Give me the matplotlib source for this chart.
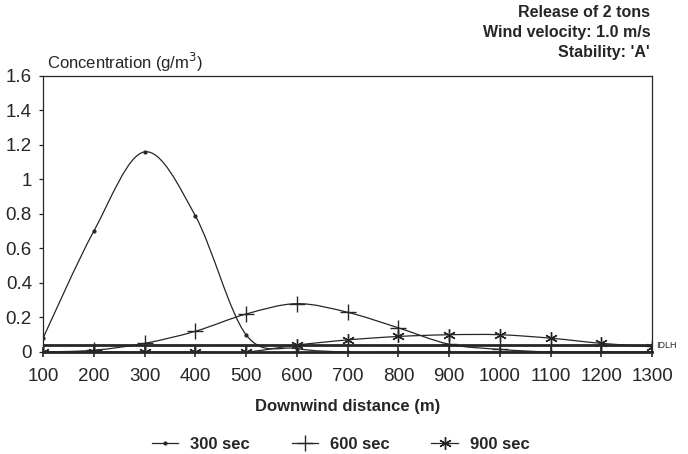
import numpy as np
import matplotlib
matplotlib.use('Agg')
import matplotlib.pyplot as plt
from matplotlib.path import Path
from matplotlib.patches import PathPatch
from matplotlib.lines import Line2D

plt.rcParams['font.family'] = ['Liberation Sans', 'DejaVu Sans']

distance = [100, 200, 300, 400, 500, 600, 700, 800, 900, 1000, 1100, 1200, 1300]
conc_300 = [0.08, 0.70, 1.16, 0.79, 0.10, 0.02, 0.0, 0.0, 0.0, 0.0, 0.0, 0.0, 0.0]
conc_600 = [0.0, 0.01, 0.05, 0.12, 0.22, 0.28, 0.23, 0.14, 0.045, 0.015, 0.0, 0.0, 0.0]
conc_900 = [0.0, 0.0, 0.0, 0.0, 0.0, 0.04, 0.07, 0.09, 0.10, 0.10, 0.08, 0.05, 0.03]
idlh = 0.038

ink = '#262626'


def smooth_path(x, y):
    # catmull-rom through the points, drawn as bezier segments
    pts = np.column_stack([x, y]).astype(float)
    ext = np.vstack([pts[0], pts, pts[-1]])
    verts = [pts[0]]
    codes = [Path.MOVETO]
    for i in range(len(pts) - 1):
        p0, p1, p2, p3 = ext[i], ext[i + 1], ext[i + 2], ext[i + 3]
        verts += [p1 + (p2 - p0) / 6, p2 - (p3 - p1) / 6, p2]
        codes += [Path.CURVE4] * 3
    return Path(verts, codes)


fig = plt.figure(figsize=(6.88, 4.54), dpi=100)
ax = fig.add_axes([0.0625, 0.2247, 0.8855, 0.608])

series = [
    (conc_300, '.', 4, '300 sec'),
    (conc_600, '+', 11, '600 sec'),
    (conc_900, (6, 2, 0), 9, '900 sec'),
]
handles = []
for vals, mk, ms, lab in series:
    ax.add_patch(PathPatch(smooth_path(distance, vals), facecolor='none',
                           edgecolor=ink, lw=0.9))
    ax.plot(distance, vals, ls='none', marker=mk, ms=ms, color=ink, mew=1.0)
    handles.append(Line2D([], [], color=ink, lw=0.9, marker=mk, ms=ms, mew=1.0))

ax.axhline(idlh, color=ink, lw=2.0)
ax.text(1308, idlh, 'IDLH', fontsize=6.5, color=ink, va='center', ha='left',
        clip_on=False)

ax.set_xlim(100, 1300)
ax.set_ylim(0, 1.6)
ax.set_xticks(distance)
ax.set_yticks([0, 0.2, 0.4, 0.6, 0.8, 1, 1.2, 1.4, 1.6])
ax.set_yticklabels(['0', '0.2', '0.4', '0.6', '0.8', '1', '1.2', '1.4', '1.6'])
ax.tick_params(axis='x', direction='inout', length=7, width=1.2, color=ink,
               labelsize=13.5, labelcolor=ink, pad=8)
ax.tick_params(axis='y', direction='out', length=3, width=0.9, color=ink,
               labelsize=13.5, labelcolor=ink, pad=5)
for s in ['top', 'right', 'left']:
    ax.spines[s].set_linewidth(0.9)
    ax.spines[s].set_color(ink)
ax.spines['bottom'].set_linewidth(2.0)
ax.spines['bottom'].set_color(ink)

ax.set_xlabel('Downwind distance (m)', fontsize=12, fontweight='bold',
              color=ink, labelpad=10)
fig.text(0.068, 0.862, 'Concentration (g/m$^3$)', fontsize=12, color=ink,
         ha='left', va='center')
fig.text(0.945, 0.99, "Release of 2 tons\nWind velocity: 1.0 m/s\nStability: 'A'",
         fontsize=11.5, fontweight='bold', color=ink, ha='right', va='top',
         linespacing=1.45)

fig.legend(handles, [s[3] for s in series], loc='center', ncol=3,
           bbox_to_anchor=(0.495, 0.022), frameon=False, handlelength=1.6,
           handletextpad=0.7, columnspacing=2.5,
           prop={'size': 12, 'weight': 'bold'}, labelcolor=ink)

fig.savefig('out.png', dpi=100)
